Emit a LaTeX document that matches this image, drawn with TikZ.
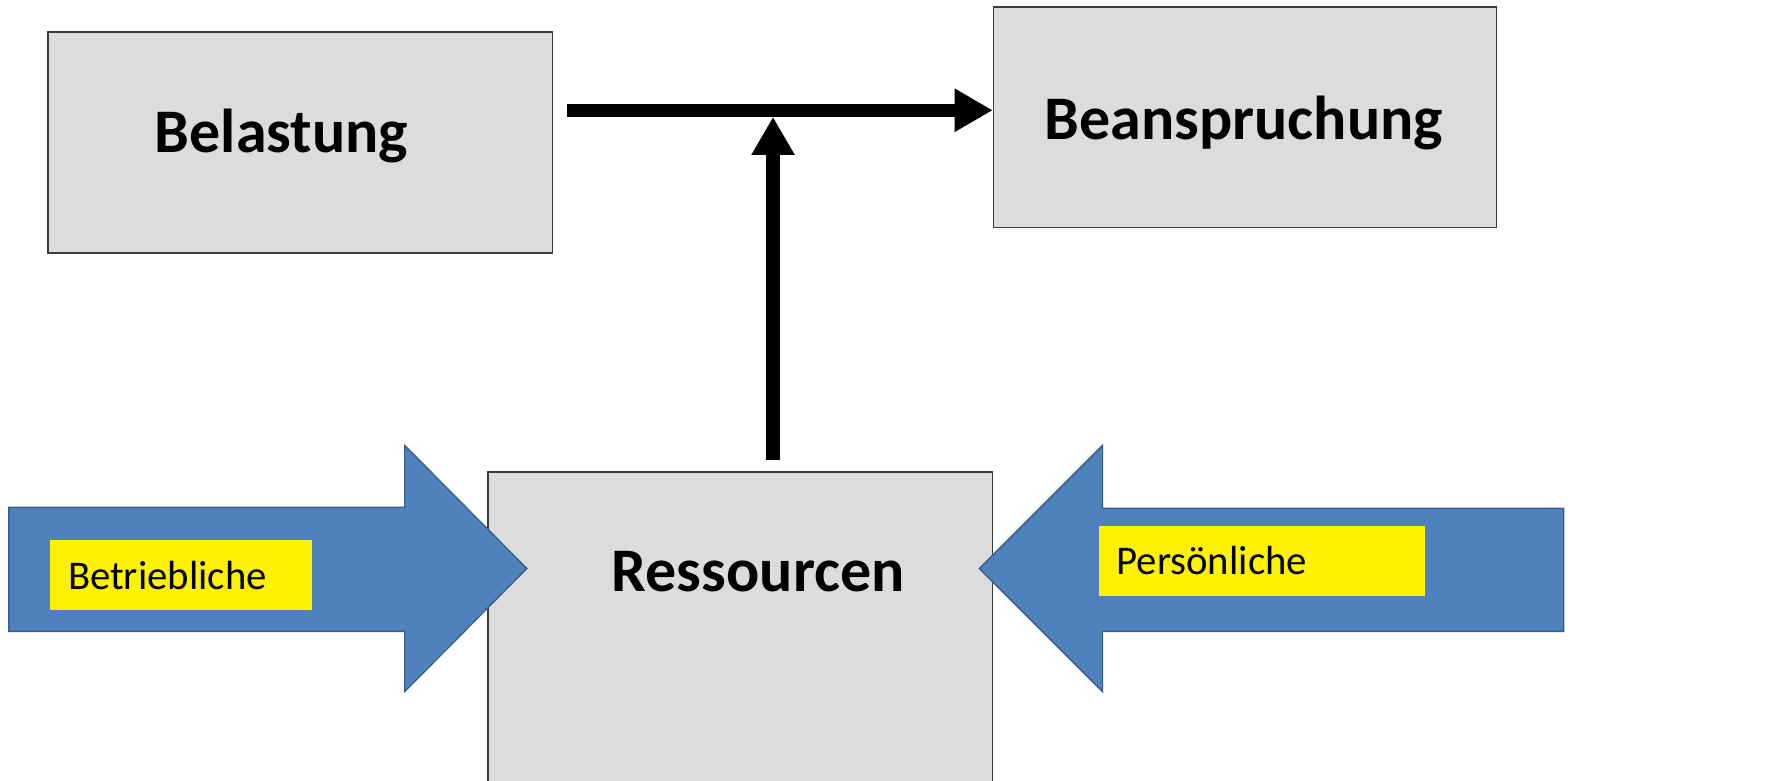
\documentclass[tikz,border=0pt]{standalone}
\usepackage{fontspec}
\setmainfont{Carlito}
\usetikzlibrary{arrows.meta}

\definecolor{boxgrey}{RGB}{220,220,220}
\definecolor{arrowblue}{RGB}{79,129,189}
\definecolor{arrowedge}{RGB}{56,93,138}

\tikzset{every picture/.style={line width=0.75pt}}
\tikzset{
  greybox/.style={draw={rgb,255:red,60;green,60;blue,60}, fill=boxgrey, line width=0.35pt, inner sep=0pt},
  boxtitle/.style={anchor=base west, inner sep=0pt, font=\bfseries\fontsize{14}{16}\selectfont},
  blockarrow/.style={draw=arrowedge, fill=arrowblue, line width=0.3pt, line join=miter},
  tag/.style={fill=yellow, anchor=west, inner xsep=4pt, inner ysep=0pt, minimum height=15.8pt, align=left, font=\fontsize{9.2}{11}\selectfont},
  flow/.style={line width=3pt, -{Triangle[length=8.6pt,width=9.2pt]}}
}

\begin{document}
\begin{tikzpicture}[x=0.2pt,y=0.2pt,yscale=-1,xscale=1]
	%set diagram size
	\useasboundingbox[fill=white] (0,0) rectangle (2000,881);

	%Shape: Rectangle [id:bel]
	\node[greybox, minimum width=114pt, minimum height=50pt] (bel) at (339,161) {};
	%Shape: Rectangle [id:bea]
	\node[greybox, minimum width=113.6pt, minimum height=49.8pt] (bea) at (1406,132.5) {};
	%Shape: Rectangle [id:res]
	\node[greybox, minimum width=114pt, minimum height=72pt] (res) at (836,713) {};

	%Block arrows
	\draw[blockarrow] (10,573) -- (457,573) -- (457,503) -- (595,642) -- (457,781) -- (457,713) -- (10,713) -- cycle;
	\draw[blockarrow] (1766,574) -- (1245,574) -- (1245,503) -- (1106,642) -- (1245,781) -- (1245,713) -- (1766,713) -- cycle;

	%Connectors
	\coordinate (hstart) at (640,124.5);
	\coordinate (vstart) at (873,519);
	\coordinate (vend) at (873,132);
	\draw[flow] (hstart) -- (bea.west |- hstart);
	\draw[flow] (vstart) -- (vend);

	\draw (173,172) node[boxtitle] (beltext) {Belastung};
	\draw (1178,157) node[boxtitle] (beatext) {Beanspruchung};
	\draw (689,668) node[boxtitle] (restext) {Ressourcen};

	\node[tag, text width=51.2pt] (betr) at (55,649.5) {Betriebliche};
	\node[tag, text width=65.6pt] (pers) at (1239,633) {Persönliche};
\end{tikzpicture}
\end{document}
